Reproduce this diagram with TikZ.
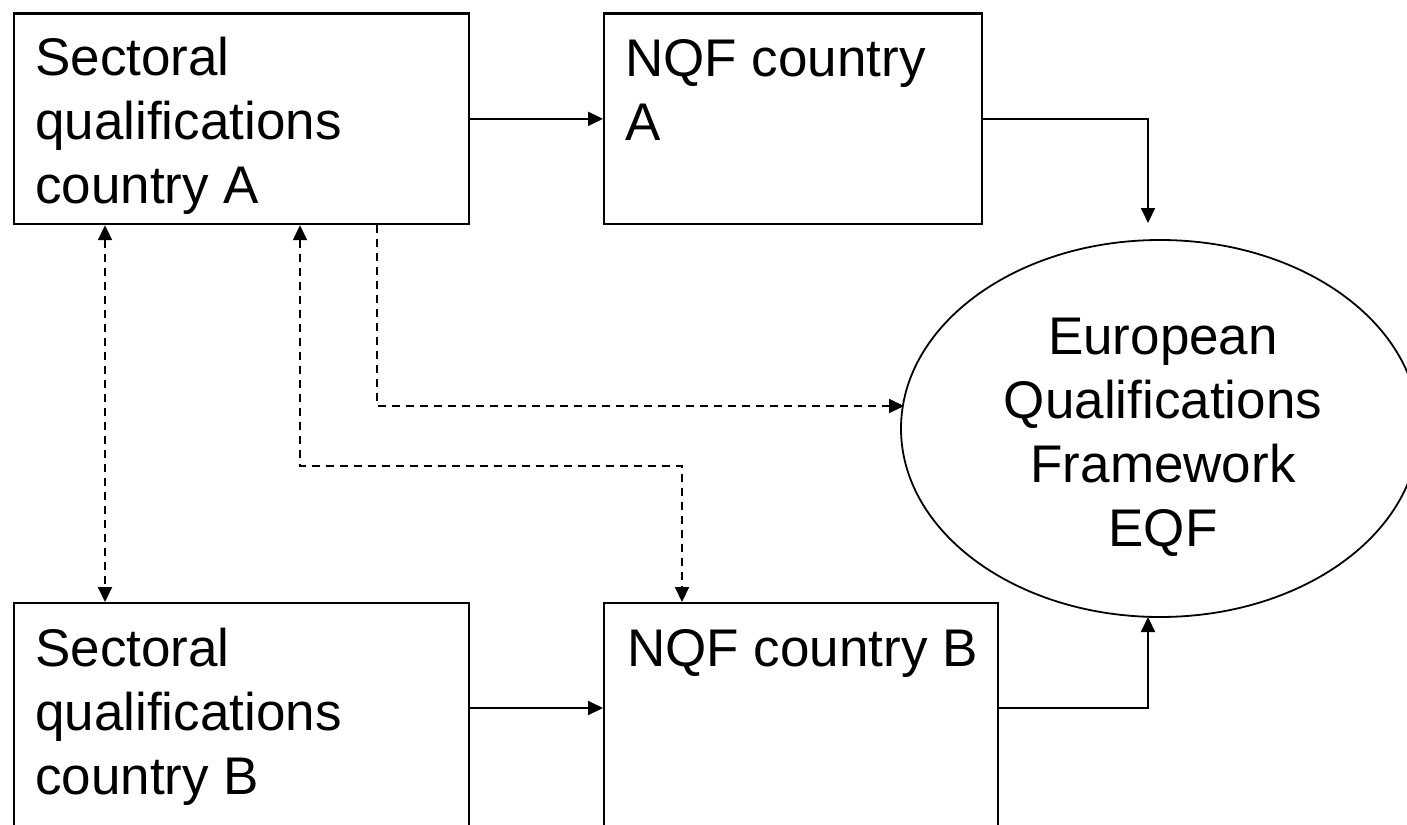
\documentclass[tikz,border=0pt]{standalone}
\usepackage{fontspec}
\setmainfont{Liberation Sans}
\usetikzlibrary{arrows.meta,shapes.geometric}
\begin{document}
\begin{tikzpicture}[x=1pt,y=-1pt,
  >={Triangle[length=15pt,width=14pt]},
  boxnode/.style={draw, line width=2.2pt, inner sep=0pt, anchor=north west},
  lbl/.style={inner sep=0pt, anchor=base west, align=left, font=\fontsize{53}{64}\selectfont},
  conn/.style={line width=2pt, ->},
  dconn/.style={line width=2pt, dash pattern=on 8pt off 6pt}]
\useasboundingbox (0,0) rectangle (1407,824);
\clip (0,0) rectangle (1407,824);
\fill[white] (0,0) rectangle (1407,824);

\node[boxnode, minimum width=455pt, minimum height=210.5pt] (sa) at (12.5,12.5) {};
\node[boxnode, minimum width=378pt, minimum height=210.5pt] (na) at (603,12.5) {};
\node[boxnode, minimum width=455pt, minimum height=240pt] (sb) at (12.5,602) {};
\node[boxnode, minimum width=394pt, minimum height=240pt] (nb) at (603,602) {};
\node[draw, ellipse, line width=1.8pt, inner sep=0pt, minimum width=518pt, minimum height=377pt] (eqf) at (1160,428.5) {};

\node[lbl] (sat) at (35,203) {Sectoral\\qualifications\\country A};
\node[lbl] (nat) at (625,140) {NQF country\\A};
\node[lbl] (sbt) at (35,794) {Sectoral\\qualifications\\country B};
\node[lbl] (nbt) at (627,666) {NQF country B};
\node[inner sep=0pt, anchor=base, align=center, font=\fontsize{53}{64}\selectfont] (eqft) at (1163,546) {European\\Qualifications\\Framework\\EQF};

\coordinate (ta) at (1148,223);
\coordinate (tb) at (1148,617);
\coordinate (te) at (904,406);

\draw[conn] (sa.east) -- (na.west);
\draw[conn] (na.east) -| (ta);
\draw[conn] (sb.east |- 0,708) -- (nb.west |- 0,708);
\draw[conn] (nb.east |- 0,708) -| (tb);

\draw[dconn,<->] (sa.south -| 105,0) -- (sb.north -| 105,0);
\draw[dconn,<->] (sa.south -| 300,0) |- (682,466) -- (nb.north -| 682,0);
\draw[dconn,->] (sa.south -| 377,0) |- (te);
\end{tikzpicture}
\end{document}
